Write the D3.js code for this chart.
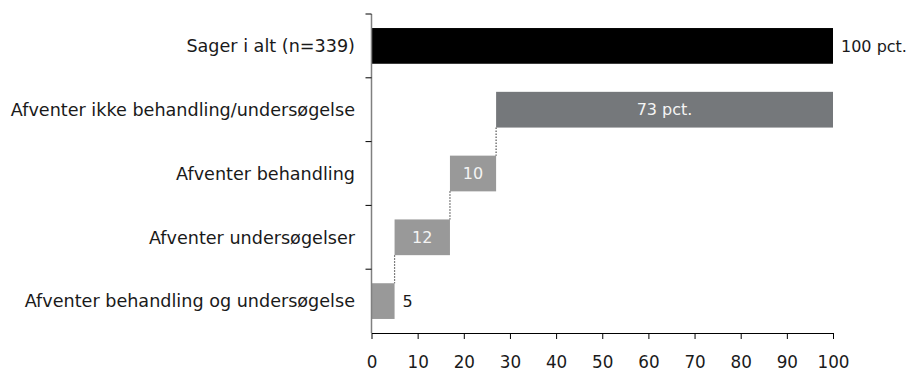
<!DOCTYPE html>
<html>
<head>
<meta charset="utf-8">
<script src="https://cdn.jsdelivr.net/npm/d3@7"></script>
<style>
  html, body { margin: 0; padding: 0; background: #fff; }
  svg { display: block; font-family: "DejaVu Sans", Verdana, sans-serif; }
</style>
</head>
<body>
<svg id="chart" width="913" height="371"></svg>
<script>
// Waterfall: total cases split into waiting status groups
const categories = [
  "Sager i alt (n=339)",
  "Afventer ikke behandling/undersøgelse",
  "Afventer behandling",
  "Afventer undersøgelser",
  "Afventer behandling og undersøgelse"
];
const values = [100, 73, 10, 12, 5];
const valueLabels = ["100 pct.", "73 pct.", "10", "12", "5"];
const barColors = ["#000000", "#75787b", "#999999", "#999999", "#999999"];
const labelInside = [false, true, true, true, false];
const xTicks = [0, 10, 20, 30, 40, 50, 60, 70, 80, 90, 100];

// First bar is the total; the rest step down from its end
const bars = [];
let level = values[0];
values.forEach((v, i) => {
  if (i === 0) {
    bars.push({ cat: categories[i], x0: 0, x1: v, i });
  } else {
    bars.push({ cat: categories[i], x0: level - v, x1: level, i });
    level -= v;
  }
});

const svg = d3.select("#chart");
const plotLeft = 371.5, plotRight = 833, plotTop = 14, plotBottom = 333;

const x = d3.scaleLinear().domain([0, 100]).range([plotLeft, plotRight]);
const y = d3.scaleBand().domain(categories).range([plotTop, plotBottom])
  .paddingInner(0.44).paddingOuter(0.22);

// Bars
svg.append("g").selectAll("rect").data(bars).join("rect")
  .attr("x", d => x(d.x0))
  .attr("y", d => y(d.cat))
  .attr("width", d => x(d.x1) - x(d.x0))
  .attr("height", y.bandwidth())
  .attr("fill", d => barColors[d.i]);

// Dotted connectors between consecutive steps
const connectors = bars.slice(1, -1).map((d, k) => ({ from: d, to: bars[k + 2] }));
svg.append("g").selectAll("line").data(connectors).join("line")
  .attr("x1", d => x(d.from.x0))
  .attr("x2", d => x(d.from.x0))
  .attr("y1", d => y(d.from.cat) + y.bandwidth())
  .attr("y2", d => y(d.to.cat))
  .attr("stroke", "#555")
  .attr("stroke-width", 1.2)
  .attr("stroke-dasharray", "1.5,1.5");

// Y axis: gray line with ticks at band boundaries
const yAxis = svg.append("g");
yAxis.append("line")
  .attr("x1", plotLeft).attr("x2", plotLeft)
  .attr("y1", plotTop).attr("y2", plotBottom)
  .attr("stroke", "#808080").attr("stroke-width", 1.5);
const boundaries = d3.range(categories.length).map(i => y(categories[i]) - y.step() * y.paddingInner() / 2);
boundaries[0] = plotTop;
yAxis.selectAll("line.tick").data(boundaries).join("line")
  .attr("class", "tick")
  .attr("x1", plotLeft - 6).attr("x2", plotLeft)
  .attr("y1", d => d).attr("y2", d => d)
  .attr("stroke", "#000").attr("stroke-width", 1);

// Category labels
svg.append("g").selectAll("text").data(categories).join("text")
  .attr("x", plotLeft - 16.5)
  .attr("y", d => y(d) + y.bandwidth() / 2)
  .attr("dy", "0.36em")
  .attr("text-anchor", "end")
  .attr("font-size", 17.6)
  .attr("fill", "#1a1a1a")
  .text(d => d);

// X axis
const xAxis = svg.append("g")
  .attr("transform", `translate(0,${plotBottom})`)
  .call(d3.axisBottom(x).tickValues(xTicks).tickSize(6).tickPadding(17).tickSizeOuter(0));
xAxis.select(".domain").attr("stroke", "#000");
xAxis.selectAll(".tick line").attr("stroke", "#000");
xAxis.selectAll(".tick text")
  .attr("font-size", 16.8)
  .attr("font-family", "DejaVu Sans, Verdana, sans-serif")
  .attr("fill", "#1a1a1a");

// Value labels
svg.append("g").selectAll("text").data(bars).join("text")
  .attr("x", d => labelInside[d.i] ? (x(d.x0) + x(d.x1)) / 2 : x(d.x1) + 8)
  .attr("y", d => y(d.cat) + y.bandwidth() / 2)
  .attr("dy", "0.36em")
  .attr("text-anchor", d => labelInside[d.i] ? "middle" : "start")
  .attr("font-size", 16)
  .attr("fill", d => labelInside[d.i] ? "#f4f4f4" : "#1a1a1a")
  .text(d => valueLabels[d.i]);
</script>
</body>
</html>
